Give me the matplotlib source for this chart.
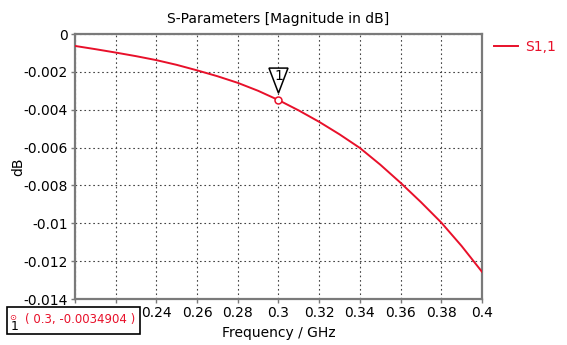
import matplotlib
matplotlib.use("Agg")
import matplotlib.pyplot as plt
from matplotlib.patches import Rectangle, Polygon
from matplotlib.transforms import ScaledTranslation

plt.rcParams['font.family'] = ['DejaVu Sans']
plt.rcParams['axes.unicode_minus'] = False

# S1,1 magnitude in dB versus frequency
freq_ghz = [0.20, 0.21, 0.22, 0.23, 0.24, 0.25, 0.26, 0.27, 0.28, 0.29, 0.30,
            0.31, 0.32, 0.33, 0.34, 0.35, 0.36, 0.37, 0.38, 0.39, 0.40]
s11_db = [-0.00063, -0.00080, -0.00098, -0.00117, -0.00138, -0.00163, -0.00192,
          -0.00223, -0.00258, -0.00300, -0.0034904, -0.00404, -0.00464, -0.00530,
          -0.00602, -0.00690, -0.00786, -0.00888, -0.00996, -0.01120, -0.01256]

x_ticks = [0.20, 0.22, 0.24, 0.26, 0.28, 0.30, 0.32, 0.34, 0.36, 0.38, 0.40]
x_tick_labels = ["0.2", "0.22", "0.24", "0.26", "0.28", "0.3", "0.32", "0.34", "0.36", "0.38", "0.4"]
y_ticks = [0, -0.002, -0.004, -0.006, -0.008, -0.01, -0.012, -0.014]
y_tick_labels = ["0", "-0.002", "-0.004", "-0.006", "-0.008", "-0.01", "-0.012", "-0.014"]

marker_freq = 0.3
marker_val = -0.0034904
marker_label = "1"

red = "#e8102a"
frame = "#7a7a7a"
fs = 10

fig = plt.figure(figsize=(5.67, 3.45), dpi=100)
ax = fig.add_axes([0.1323, 0.1333, 0.7177, 0.7681])

ax.plot(freq_ghz, s11_db, color=red, lw=1.4, label="S1,1", zorder=3)
ax.set_xlim(0.2, 0.4)
ax.set_ylim(-0.014, 0)
ax.set_xticks(x_ticks)
ax.set_xticklabels(x_tick_labels)
ax.set_yticks(y_ticks)
ax.set_yticklabels(y_tick_labels)
ax.tick_params(labelsize=fs, length=3, color=frame, width=1, pad=2)
ax.grid(True, color="#444444", linestyle=(0, (1.5, 2.5)), linewidth=0.8)
for s in ax.spines.values():
    s.set_color(frame)
    s.set_linewidth(1.6)

ax.set_title("S-Parameters [Magnitude in dB]", fontsize=fs, pad=8)
ax.set_xlabel("Frequency / GHz", fontsize=fs, labelpad=4)
ax.set_ylabel("dB", fontsize=fs, labelpad=-1)

# Marker 1: open circle on the curve and a downward triangle tag above it
ax.plot([marker_freq], [marker_val], "o", ms=5, mfc="white", mec=red, mew=1.1, zorder=4)
at_marker = fig.dpi_scale_trans + ScaledTranslation(marker_freq, marker_val, ax.transData)
tag = Polygon([(-0.095, 0.32), (0.095, 0.32), (0.0, 0.07)], closed=True, transform=at_marker,
              facecolor="white", edgecolor="black", lw=1.1, zorder=5, clip_on=False)
ax.add_artist(tag)
ax.text(0, 0.245, marker_label, fontsize=fs, ha="center", va="center", zorder=6, transform=at_marker)

# Legend at the right of the plot
leg = ax.legend(loc="upper left", bbox_to_anchor=(1.0, 1.025), frameon=False, fontsize=fs,
                handlelength=1.7, handletextpad=0.5)
for t in leg.get_texts():
    t.set_color(red)

# Marker readout box at lower left
box = Rectangle((7 / 567, 1 - 334 / 345), 133 / 567, 27 / 345, transform=fig.transFigure,
                facecolor="white", edgecolor="black", lw=1.2, zorder=10)
fig.add_artist(box)
fig.text(12.5 / 567, 1 - 317 / 345, "\u2299", color=red, fontsize=6, ha="center", va="center", zorder=11)
fig.text(15 / 567, 1 - 327 / 345, marker_label, color="black", fontsize=9, ha="center", va="center", zorder=11)
fig.text(25 / 567, 1 - 319 / 345, f"( {marker_freq}, {marker_val} )", color=red, fontsize=8.5,
         ha="left", va="center", zorder=11)

fig.savefig("out.png", dpi=100)
